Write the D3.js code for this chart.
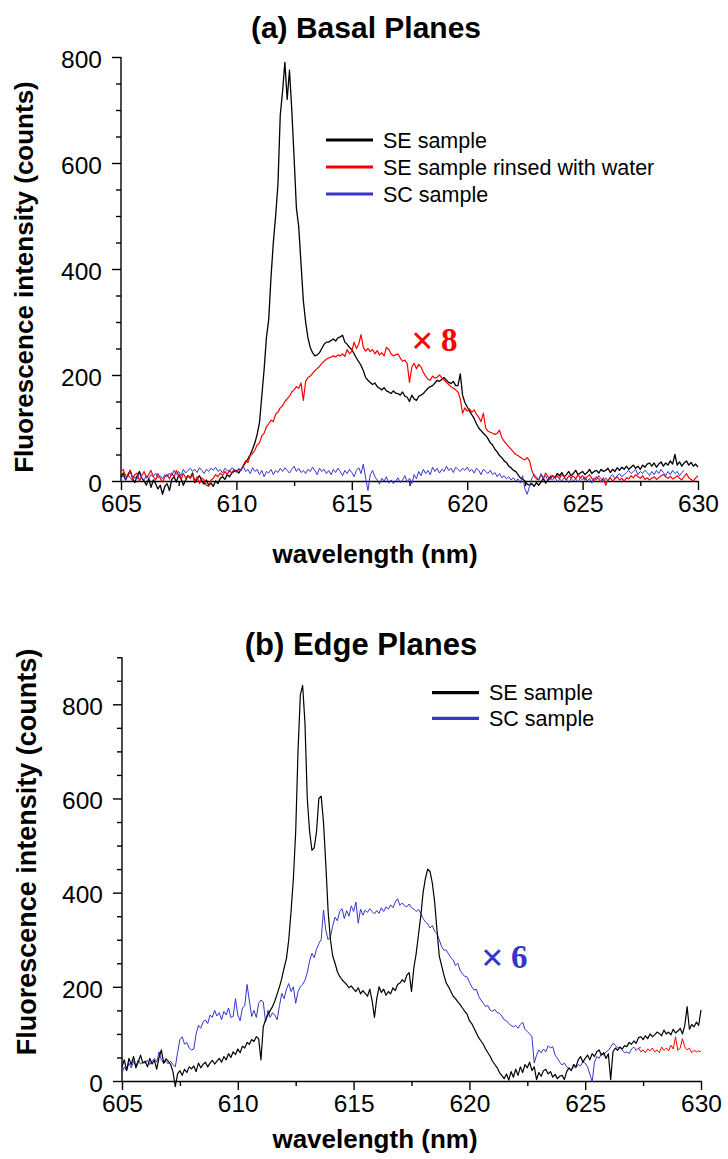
<!DOCTYPE html>
<html><head><meta charset="utf-8">
<script src="https://cdn.jsdelivr.net/npm/d3@7/dist/d3.min.js"></script>
<style>
body{margin:0;background:#fff;}
svg{display:block;}
</style></head><body>
<svg id="chart" width="728" height="1159"></svg>
<script>
// ---- data ----
const wlStart = 605, wlStep = 0.1;
const xTicks = [605, 610, 615, 620, 625, 630];
const xMinorTicks = [607.5, 612.5, 617.5, 622.5, 627.5];
const yTicksA = [0, 200, 400, 600, 800];
const yTicksB = [0, 200, 400, 600, 800];

// (a) Basal planes
const basalSE = [
8,15,2,12,20,5,-3,10,18,6,
0,-8,5,-12,2,-5,-15,-8,-25,-10,
-5,-18,3,8,-2,12,5,-8,2,10,
6,15,-3,4,10,0,-6,2,-8,-4,
-10,0,-5,5,8,3,12,8,15,18,
20,15,22,28,35,42,50,60,72,88,
110,160,210,270,305,385,450,500,560,690,
735,790,720,775,700,610,515,480,410,340,
300,270,252,242,236,238,242,250,258,262,
262,265,268,264,270,272,275,262,258,252,
248,240,232,225,218,208,195,190,186,182,
185,178,175,172,176,170,168,165,170,166,
165,162,168,160,158,150,162,155,152,160,
162,165,170,175,178,180,185,190,188,192,
195,190,186,184,188,180,180,202,162,148,
140,132,125,118,108,100,95,90,86,80,
72,68,60,55,48,44,38,35,28,25,
20,18,12,6,4,0,-6,-8,-5,-10,
-3,-8,-2,5,-4,2,8,10,6,14,
10,16,8,12,18,10,14,20,12,15,
18,12,16,22,14,18,20,15,22,18,
20,24,16,22,18,25,20,26,22,28,
22,26,30,24,28,22,30,26,32,34,
28,34,26,32,36,28,34,30,38,32,
50,30,36,28,34,38,30,35,28,32,
26];
const basalRinsed = [
18,22,10,8,20,5,12,15,0,10,
18,6,12,20,8,2,14,5,-2,8,
12,4,15,8,20,10,3,14,6,10,
5,12,0,8,-5,6,2,-8,-10,2,
5,12,8,15,10,18,12,20,15,22,
18,22,20,30,38,35,48,52,58,68,
72,85,90,102,108,115,112,126,130,138,
142,150,155,160,168,172,178,175,185,152,
188,195,198,203,208,212,216,222,226,230,
232,234,236,234,238,236,240,235,248,240,
245,262,250,258,276,252,245,250,244,248,
240,246,238,242,236,252,248,240,236,238,
240,232,226,228,222,186,215,222,212,220,
215,205,198,192,190,198,194,196,200,195,
190,186,182,178,175,172,168,155,128,138,
132,136,130,134,126,120,112,128,100,94,
92,90,88,90,96,82,75,70,65,60,
55,50,48,45,42,40,44,38,20,10,
4,2,12,5,15,8,3,10,6,9,
5,12,8,2,10,6,9,4,12,6,
10,2,8,12,5,0,8,4,-2,6,
-8,2,6,0,4,8,2,5,0,6,
4,10,6,12,8,5,10,3,6,2,
5,8,3,6,10,12,8,5,9,4,
6,10,5,2,8,14,6,3,0,6,
10];
const basalSC = [
5,10,2,12,6,0,8,4,14,6,
2,10,5,12,8,15,6,10,4,12,
8,15,10,20,12,18,10,22,15,20,
24,18,22,16,25,20,14,22,18,24,
20,26,18,22,15,24,20,18,25,22,
16,24,20,28,18,22,14,25,18,22,
12,20,8,18,15,22,12,20,16,24,
18,25,20,15,22,28,18,24,16,20,
14,22,18,26,20,12,24,18,22,14,
20,12,22,16,24,18,10,20,14,22,
16,8,20,25,14,32,5,-18,12,20,
8,2,-6,5,0,8,-4,2,-5,0,
6,-3,2,10,-2,5,-5,12,4,18,
10,22,14,20,12,26,18,24,15,22,
18,28,20,24,16,26,22,18,24,20,
26,18,22,15,24,20,12,22,18,14,
20,12,16,8,14,6,10,4,8,2,
6,0,4,-4,10,-15,-25,-10,5,12,
8,2,14,5,10,0,6,2,8,-2,
4,0,6,2,-3,5,0,4,-2,6,
2,8,0,5,-4,6,2,10,4,-2,
6,0,8,12,4,10,14,8,12,16,
20,14,18,22,12,18,14,20,16,10,
18,12,20,14,22,16,10,18,12,20,
14,18,10,16,20,null,null,null,null,null,
null];

// (b) Edge planes
const edgeSE = [
30,45,22,48,35,52,28,40,55,38,
42,30,48,36,44,25,50,66,38,47,
42,35,20,-12,15,22,12,25,18,30,
26,32,20,38,28,35,40,30,38,44,
36,42,48,40,52,45,58,50,62,56,
68,60,74,70,82,78,88,84,94,90,
45,115,130,140,150,158,170,185,200,218,
240,260,300,360,430,530,700,820,840,760,
600,530,490,495,530,600,605,550,460,360,
300,265,250,232,222,215,210,205,198,202,
195,190,198,185,192,186,180,195,170,135,
175,200,188,195,182,190,185,198,192,205,
208,215,210,225,230,190,240,270,310,350,
400,430,450,445,420,380,320,265,245,225,
208,200,190,180,175,168,162,155,148,142,
128,122,112,102,92,85,78,68,60,52,
42,35,28,18,12,5,15,2,20,8,
25,12,30,18,35,28,40,22,30,3,
18,10,22,25,15,20,8,14,5,10,
12,3,20,28,22,35,30,45,52,40,
48,55,45,58,52,62,66,55,60,48,
58,3,62,70,65,72,68,75,73,82,
78,85,80,92,94,88,96,90,100,94,
98,104,101,96,108,100,104,98,110,102,
106,112,100,118,158,110,120,115,125,118,
151];
const edgeSC = [
17,30,22,38,28,42,32,45,36,40,
38,44,35,42,48,40,62,45,38,42,
36,42,35,30,60,88,94,78,82,70,
66,68,100,118,112,125,130,122,140,135,
150,138,145,130,148,140,155,135,137,175,
140,128,155,160,205,170,137,150,135,165,
172,168,125,150,135,145,140,130,160,186,
175,195,207,190,200,165,190,200,205,214,
230,255,271,262,280,292,300,363,320,300,
306,330,348,340,360,366,345,362,350,372,
360,380,335,365,352,363,358,366,360,355,
362,356,368,360,370,365,374,368,380,387,
373,378,372,370,376,368,365,360,364,356,
345,338,334,325,330,318,313,300,285,278,
278,270,262,257,245,250,235,228,222,221,
210,200,193,195,180,172,165,158,160,150,
148,152,145,144,138,130,128,122,118,115,
118,112,120,125,110,105,100,94,38,55,
66,60,68,62,75,70,73,55,48,40,
34,38,30,26,24,30,28,35,32,41,
38,30,15,-2,40,52,48,58,55,62,
65,72,80,76,70,72,66,60,62,58,
68,72,65,70,71,null,null,null,null,null,
null,null,null,null,null,null,null,null,null,null,
null,null,null,null,null,null,null,null,null,null,
null];
const edgeTailStart = 627.3;
const edgeTail = [
70,62,66,60,68,64,70,
62,66,60,72,65,70,64,76,68,94,
65,70,90,72,66,70,60,65,62,64,
62];

// ---- drawing ----
const svg = d3.select("#chart");
const SANS = '"Liberation Sans", Arial, Helvetica, sans-serif';
const SERIF = '"Liberation Serif", "Times New Roman", serif';
const C_BLACK = "#000000", C_RED = "#ff0000", C_BLUE = "#3535cc";

function toPoints(values, start){
  return values.map((v,i)=> v==null ? null : {x: start + i*wlStep, y: v});
}

function panel(cfg){
  const x = d3.scaleLinear().domain([605,630]).range([cfg.x0, cfg.x1]);
  const y = d3.scaleLinear().domain([0,800]).range([cfg.y0, cfg.y800]);
  const g = svg.append("g").style("font-family", SANS);

  // minor ticks
  const xMinor = d3.axisBottom(x).tickValues(xMinorTicks).tickSize(5).tickFormat("");
  g.append("g").attr("transform",`translate(0,${cfg.y0})`).call(xMinor)
    .call(a=>a.select(".domain").remove());
  const yMinorVals = d3.range(50, cfg.yTop+1, 50).filter(v=>v%200!==0);
  const yMinor = d3.axisLeft(y).tickValues(yMinorVals).tickSize(5).tickFormat("");
  g.append("g").attr("transform",`translate(${cfg.x0},0)`).call(yMinor)
    .call(a=>a.select(".domain").remove());

  // major axes
  const xAxis = d3.axisBottom(x).tickValues(xTicks).tickSize(9).tickSizeOuter(0).tickPadding(5).tickFormat(d3.format("d"));
  const gx = g.append("g").attr("transform",`translate(0,${cfg.y0})`).call(xAxis);
  gx.selectAll("text").style("font-size","24.5px").style("font-family",SANS).attr("fill","#000");
  const yAxis = d3.axisLeft(y).tickValues(cfg.yTicks).tickSize(9).tickSizeOuter(0).tickPadding(10);
  const gy = g.append("g").attr("transform",`translate(${cfg.x0},0)`).call(yAxis);
  gy.select(".domain").attr("d", `M0,${y(0)}V${y(cfg.yTop)}`);
  gy.selectAll("text").style("font-size","24.5px").style("font-family",SANS).attr("dy","0.42em").attr("fill","#000");
  g.selectAll(".domain, .tick line").attr("stroke","#000").attr("stroke-width",1.4);

  const line = d3.line().defined(d=>d!=null).x(d=>x(d.x)).y(d=>y(d.y));
  cfg.series.forEach(s=>{
    g.append("path").datum(toPoints(s.values, s.start))
      .attr("fill","none").attr("stroke",s.color).attr("stroke-width",s.width)
      .attr("stroke-linejoin","round").attr("d",line);
  });

  // titles
  g.append("text").attr("x",cfg.titleX).attr("y",cfg.titleY).attr("text-anchor","middle")
    .style("font-size",cfg.titleSize+"px").style("font-weight","bold").text(cfg.title);
  g.append("text").attr("x",375).attr("y",cfg.xTitleY).attr("text-anchor","middle")
    .style("font-size","26px").style("font-weight","bold").text("wavelength (nm)");
  g.append("text").attr("transform",`translate(${cfg.yTitleX},${cfg.yTitleY}) rotate(-90)`)
    .attr("text-anchor","middle").style("font-size",cfg.yTitleSize+"px").style("font-weight","bold")
    .text("Fluorescence intensity (counts)");

  // legend
  cfg.legend.items.forEach((it,i)=>{
    const ly = cfg.legend.y + i*cfg.legend.dy;
    g.append("line").attr("x1",cfg.legend.x).attr("x2",cfg.legend.x+47)
      .attr("y1",ly).attr("y2",ly).attr("stroke",it.color).attr("stroke-width",3.2);
    g.append("text").attr("x",cfg.legend.x+57).attr("y",ly+7.5)
      .style("font-size","21.5px").attr("fill","#000").text(it.label);
  });

  // scale factor (× symbol drawn larger, digit in bold serif)
  g.append("text").attr("x",cfg.factor.x).attr("y",cfg.factor.y+3)
    .style("font-family",SERIF).style("font-weight","bold").style("font-size","40px")
    .attr("fill",cfg.factor.color).text("×");
  g.append("text").attr("x",cfg.factor.x+30).attr("y",cfg.factor.y)
    .style("font-family",SERIF).style("font-weight","bold").style("font-size","33px")
    .attr("fill",cfg.factor.color).text(cfg.factor.digit);
}

panel({
  x0:121, x1:698, y0:481, y800:57, yTop:800, yTicks:yTicksA,
  title:"(a) Basal Planes", titleSize:30, titleX:366, titleY:38, xTitleY:563,
  yTitleX:33, yTitleY:277, yTitleSize:26,
  series:[
    {values:basalSE, start:wlStart, color:C_BLACK, width:1.3},
    {values:basalRinsed, start:wlStart, color:C_RED, width:1.2},
    {values:basalSC, start:wlStart, color:C_BLUE, width:1}
  ],
  legend:{x:326, y:140, dy:27, items:[
    {label:"SE sample", color:C_BLACK},
    {label:"SE sample rinsed with water", color:C_RED},
    {label:"SC sample", color:C_BLUE}]},
  factor:{x:411, y:351, digit:"8", color:C_RED}
});

panel({
  x0:122, x1:701, y0:1081, y800:704.3, yTop:900, yTicks:yTicksB,
  title:"(b) Edge Planes", titleSize:31, titleX:361, titleY:655, xTitleY:1148,
  yTitleX:36, yTitleY:852, yTitleSize:27,
  series:[
    {values:edgeSC, start:wlStart, color:C_BLUE, width:1},
    {values:edgeTail, start:edgeTailStart, color:C_RED, width:1},
    {values:edgeSE, start:wlStart, color:C_BLACK, width:1.2}
  ],
  legend:{x:432, y:692.7, dy:25.6, items:[
    {label:"SE sample", color:C_BLACK},
    {label:"SC sample", color:C_BLUE}]},
  factor:{x:481, y:968, digit:"6", color:C_BLUE}
});
</script>
</body></html>
